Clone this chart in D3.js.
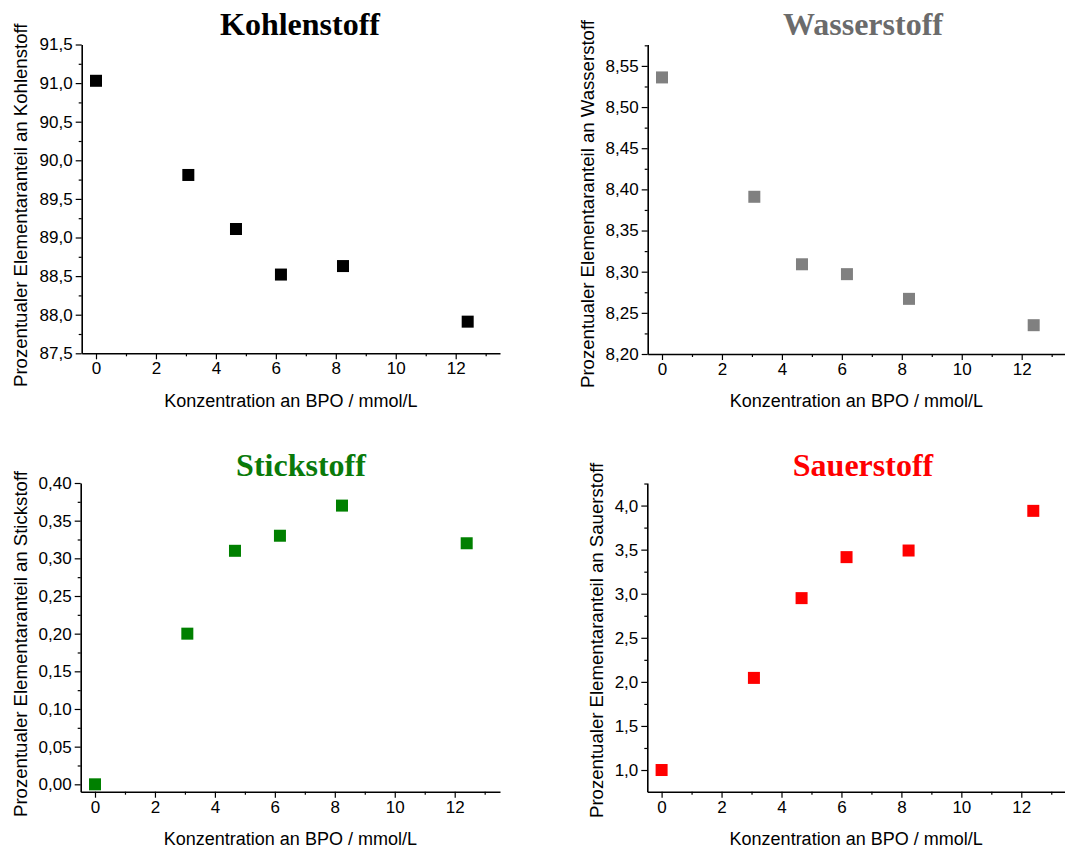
<!DOCTYPE html>
<html><head><meta charset="utf-8">
<script src="https://cdn.jsdelivr.net/npm/d3@7"></script>
<style>body{margin:0;background:#fff}svg{display:block}</style>
</head><body>
<svg id="c" width="1065" height="848"></svg>
<script>
const concentration = [0, 3.08, 4.67, 6.17, 8.24, 12.4];
const kohlenstoff = [91.03, 89.81, 89.11, 88.52, 88.63, 87.91];
const wasserstoff = [8.536, 8.391, 8.309, 8.297, 8.267, 8.235];
const stickstoff = [0.00, 0.20, 0.31, 0.33, 0.37, 0.32];
const sauerstoff = [1.00, 2.045, 2.95, 3.415, 3.49, 3.94];
const titles = ["Kohlenstoff", "Wasserstoff", "Stickstoff", "Sauerstoff"];
const xTicks = [0, 2, 4, 6, 8, 10, 12];
const yTicksK = [87.5, 88.0, 88.5, 89.0, 89.5, 90.0, 90.5, 91.0, 91.5];
const yTicksW = [8.20, 8.25, 8.30, 8.35, 8.40, 8.45, 8.50, 8.55];
const yTicksS = [0.00, 0.05, 0.10, 0.15, 0.20, 0.25, 0.30, 0.35, 0.40];
const yTicksO = [1.0, 1.5, 2.0, 2.5, 3.0, 3.5, 4.0];
const xLabel = "Konzentration an BPO / mmol/L";
const yLabelPrefix = "Prozentualer Elementaranteil an ";

const svg = d3.select("#c");
const panels = [
  {title: titles[0], vals: kohlenstoff, ticks: yTicksK, dom: [87.5, 91.5], dec: 1, step: 0.25,
   color: "#000000", tcolor: "#000000", L: 81.7, R: 500, T: 44.5, B: 353.3, tx: 300, ty: 35, ylx: 20, yly: 387, xly: 407},
  {title: titles[1], vals: wasserstoff, ticks: yTicksW, dom: [8.20, 8.576], dec: 2, step: 0.025,
   color: "#808080", tcolor: "#6b6b6b", L: 647.7, R: 1065, T: 44.5, B: 354, tx: 863, ty: 35, ylx: 587, yly: 388, xly: 407},
  {title: titles[2], vals: stickstoff, ticks: yTicksS, dom: [-0.0098, 0.40], dec: 2, step: 0.025,
   color: "#008000", tcolor: "#0a7a0a", L: 80.7, R: 500, T: 483, B: 791.7, tx: 301, ty: 476, ylx: 20, yly: 817, xly: 845},
  {title: titles[3], vals: sauerstoff, ticks: yTicksO, dom: [0.754, 4.256], dec: 1, step: 0.25,
   color: "#ff0000", tcolor: "#ff0000", L: 647.3, R: 1065, T: 483, B: 791.7, tx: 863, ty: 476, ylx: 596, yly: 818, xly: 845}
];

const fmt = (d, dec) => d.toFixed(dec).replace(".", ",");
const font = "'Liberation Sans', Arial, sans-serif";

panels.forEach(p => {
  const g = svg.append("g");
  const x0 = p.L + 14.3;
  const x12 = p.L + 374;
  const xs = d3.scaleLinear().domain([0, 12]).range([x0, x12]);
  const xDom = [xs.invert(p.L), xs.invert(p.R)];
  const x = d3.scaleLinear().domain(xDom).range([p.L, p.R]);
  const y = d3.scaleLinear().domain(p.dom).range([p.B, p.T]);

  const xAxis = d3.axisBottom(x).tickValues(xTicks).tickSize(6).tickSizeOuter(0).tickPadding(3).tickFormat(d => d);
  g.append("g").attr("transform", `translate(0,${p.B})`).call(xAxis);
  const xMinor = d3.range(1, 14, 2);
  g.append("g").attr("transform", `translate(0,${p.B})`)
    .call(d3.axisBottom(x).tickValues(xMinor).tickSize(3).tickFormat(""))
    .select(".domain").remove();

  const yAxis = d3.axisLeft(y).tickValues(p.ticks).tickSize(6).tickSizeOuter(0).tickPadding(3).tickFormat(d => fmt(d, p.dec));
  g.append("g").attr("transform", `translate(${p.L},0)`).call(yAxis);
  const minor = [];
  const t0 = p.ticks[0];
  for (let v = t0 - p.step * 4; v <= p.dom[1] + 1e-9; v += p.step) {
    const vv = +v.toFixed(4);
    if (vv < p.dom[0] - 1e-9) continue;
    if (p.ticks.some(t => Math.abs(t - vv) < 1e-6)) continue;
    minor.push(vv);
  }
  g.append("g").attr("transform", `translate(${p.L},0)`)
    .call(d3.axisLeft(y).tickValues(minor).tickSize(3).tickFormat(""))
    .select(".domain").remove();

  g.selectAll(".domain").attr("stroke", "#000").attr("stroke-width", 1.6);
  g.selectAll(".tick line").attr("stroke", "#000").attr("stroke-width", 1.2);
  g.selectAll(".tick text").attr("font-family", font).attr("font-size", 17).attr("fill", "#000");

  const s = 12;
  g.selectAll("rect.pt").data(concentration.map((c, i) => [c, p.vals[i]])).enter()
    .append("rect").attr("class", "pt")
    .attr("x", d => x(d[0]) - s / 2).attr("y", d => y(d[1]) - s / 2)
    .attr("width", s).attr("height", s).attr("fill", p.color);

  g.append("text").attr("x", p.tx).attr("y", p.ty).attr("text-anchor", "middle")
    .attr("font-family", "'Liberation Serif', 'Times New Roman', serif").attr("font-weight", "bold")
    .attr("font-size", 32).attr("fill", p.tcolor).text(p.title);

  g.append("text").attr("x", (p.L + p.R) / 2).attr("y", p.xly).attr("text-anchor", "middle")
    .attr("font-family", font).attr("font-size", 18).attr("fill", "#000").text(xLabel);
  g.append("text").attr("transform", `translate(${p.ylx},${p.yly}) rotate(-90)`)
    .attr("text-anchor", "start").attr("dominant-baseline", "central")
    .attr("font-family", font).attr("font-size", 18.6).attr("fill", "#000").text(yLabelPrefix + p.title);
});
</script>
</body></html>
